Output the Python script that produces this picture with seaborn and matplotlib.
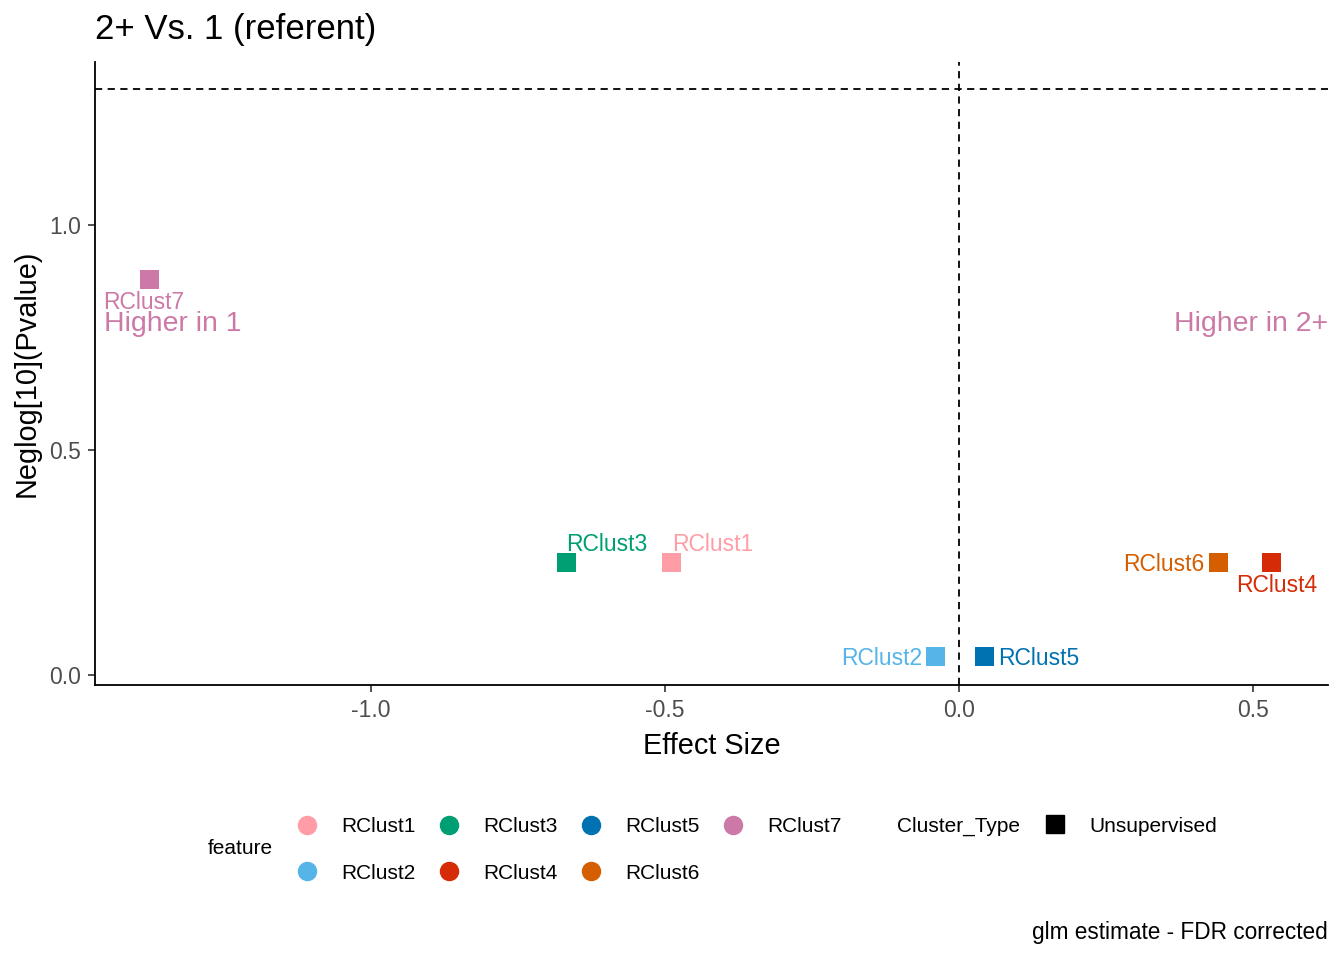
import matplotlib
matplotlib.use("Agg")
import matplotlib.pyplot as plt
from matplotlib.lines import Line2D
import matplotlib.transforms as mtransforms
import pandas as pd
import seaborn as sns

# values
features = ["RClust1", "RClust2", "RClust3", "RClust4", "RClust5", "RClust6", "RClust7"]
effect_size = [-0.488, -0.039, -0.667, 0.532, 0.044, 0.442, -1.376]
neglog_p = [0.251, 0.042, 0.251, 0.251, 0.042, 0.251, 0.878]
colors = ["#FF9DA7", "#56B4E9", "#009E73", "#D52B06", "#0072B2", "#D55E00", "#CC79A7"]
x_ticks = [-1.0, -0.5, 0.0, 0.5]
y_ticks = [0.0, 0.5, 1.0]

# label offsets (points) to mimic the repelled labels
label_offsets = {
    "RClust1": (0, 13, "left"),
    "RClust2": (-10, -1.5, "right"),
    "RClust3": (0, 13, "left"),
    "RClust4": (4, -16.5, "center"),
    "RClust5": (10, -1.5, "left"),
    "RClust6": (-10, -2, "right"),
    "RClust7": (-4, -16, "center"),
}

df = pd.DataFrame({"feature": features, "effect": effect_size, "neglog": neglog_p})
palette = dict(zip(features, colors))

sns.set_style("white")
plt.rcParams["font.family"] = ["Liberation Sans", "DejaVu Sans"]
plt.rcParams["text.color"] = "black"
plt.rcParams["axes.labelcolor"] = "black"

fig = plt.figure(figsize=(13.44, 9.6), dpi=100)
ax = fig.add_axes([95 / 1344, 1 - 685 / 960, (1328 - 95) / 1344, (685 - 62) / 960])

ax.axhline(1.301, color="black", ls=(0, (4, 3)), lw=1.3, zorder=1)
ax.axvline(0.0, color="black", ls=(0, (4, 3)), lw=1.3, zorder=1)

sns.scatterplot(data=df, x="effect", y="neglog", hue="feature", palette=palette,
                marker="s", s=190, linewidth=0, ax=ax, legend=False, zorder=3)

for f, xv, yv in zip(features, effect_size, neglog_p):
    dx, dy, ha = label_offsets[f]
    ax.annotate(f, (xv, yv), xytext=(dx, dy), textcoords="offset points",
                ha=ha, va="center", color=palette[f], fontsize=16.5)

blend = mtransforms.blended_transform_factory(ax.transAxes, ax.transData)
ax.text(0.007, 0.781, "Higher in 1", transform=blend, ha="left", va="center",
        color="#CC79A7", fontsize=20.5)
ax.text(1.0, 0.781, "Higher in 2+", transform=blend, ha="right", va="center",
        color="#CC79A7", fontsize=20.5)

ax.set_xlim(-1.469, 0.628)
ax.set_ylim(-0.022, 1.362)
ax.set_xticks(x_ticks)
ax.set_xticklabels([f"{t:.1f}" for t in x_ticks])
ax.set_yticks(y_ticks)
ax.set_yticklabels([f"{t:.1f}" for t in y_ticks])
ax.tick_params(axis="both", direction="out", length=5, width=1.2, color="#333333",
               labelcolor="#4D4D4D", labelsize=16.5, pad=5, left=True, bottom=True)
sns.despine(ax=ax)
for side in ["left", "bottom"]:
    ax.spines[side].set_color("black")
    ax.spines[side].set_linewidth(1.3)

ax.set_xlabel("Effect Size", fontsize=20.8, labelpad=7)
ax.set_ylabel("Neglog[10](Pvalue)", fontsize=20.8, labelpad=6)
fig.text(95 / 1344, 1 - 30 / 960, "2+ Vs. 1 (referent)", fontsize=25,
         ha="left", va="center")

# legends
handles = [Line2D([], [], marker="o", ls="", color=palette[f], markersize=13) for f in features]
fig.legend(handles, features, ncol=4, loc="center left",
           bbox_to_anchor=(292.5 / 1344, 1 - 850 / 960), frameon=False,
           fontsize=15, handletextpad=0.94, columnspacing=0.9,
           labelspacing=1.3, borderpad=0, borderaxespad=0, handlelength=1.4)
fig.text(208 / 1344, 1 - 849 / 960, "feature", fontsize=15, ha="left", va="center")
fig.text(897 / 1344, 1 - 826 / 960, "Cluster_Type", fontsize=15, ha="left", va="center")
sq = [Line2D([], [], marker="s", ls="", color="black", markersize=13)]
fig.legend(sq, ["Unsupervised"], loc="center left",
           bbox_to_anchor=(1040.5 / 1344, 1 - 826 / 960), frameon=False,
           fontsize=15, handletextpad=0.94, borderpad=0, borderaxespad=0,
           handlelength=1.4)

fig.text(1328 / 1344, 1 - 933 / 960, "glm estimate - FDR corrected", fontsize=16.3,
         ha="right", va="center")

fig.savefig("out.png", dpi=100)
